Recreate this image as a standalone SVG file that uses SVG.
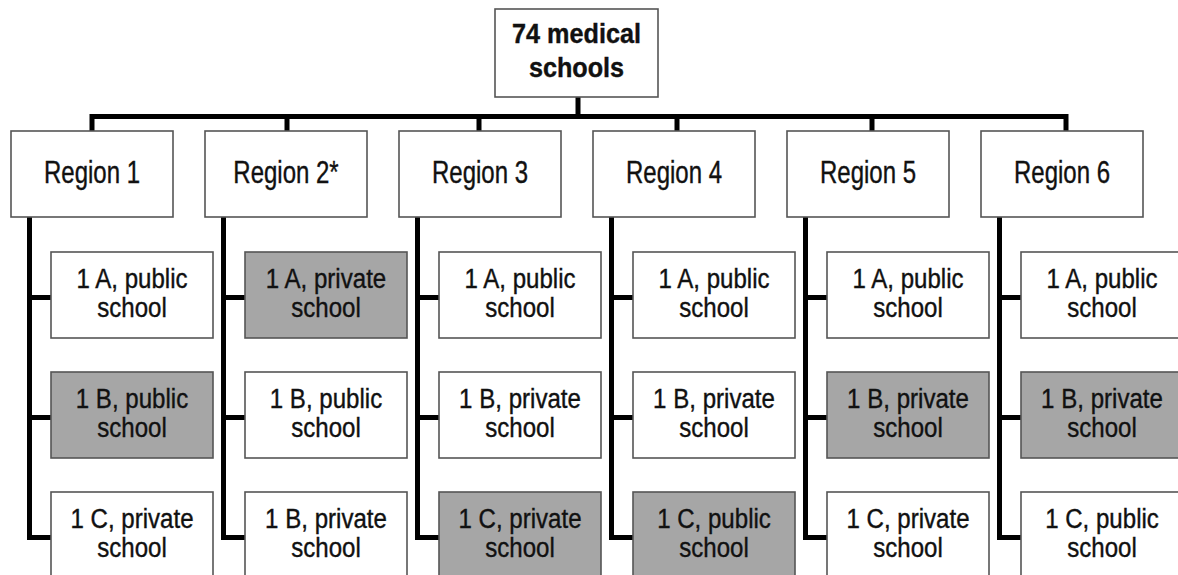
<svg xmlns="http://www.w3.org/2000/svg" width="1178" height="575" viewBox="0 0 1178 575">
<style>
.box{fill:#fff;stroke:#555;stroke-width:1.6}
.g{fill:#a6a6a6}
.ln{fill:none;stroke:#000;stroke-width:5;stroke-linejoin:miter;stroke-linecap:butt}
text{font-family:"Liberation Sans",Arial,sans-serif;fill:#111;stroke:#111;stroke-width:0.4;text-anchor:middle}
.t{font-size:28px}
.r{font-size:32px}
.b{font-size:28px;font-weight:bold}
</style>
<rect width="1178" height="575" fill="#fff"/>
<g id="connectors">
<path class="ln" d="M578 97 V116.5"/>
<path class="ln" d="M92 131 V116.5 H1066 V131"/>
<path class="ln" d="M287 116.5 V131 M479 116.5 V131 M677 116.5 V131 M872 116.5 V131"/>
<path class="ln" d="M29.5 217 V537.5 H51 M29.5 297.5 H51 M29.5 417.5 H51"/>
<path class="ln" d="M223.5 217 V537.5 H245 M223.5 297.5 H245 M223.5 417.5 H245"/>
<path class="ln" d="M417.5 217 V537.5 H439 M417.5 297.5 H439 M417.5 417.5 H439"/>
<path class="ln" d="M611.5 217 V537.5 H633 M611.5 297.5 H633 M611.5 417.5 H633"/>
<path class="ln" d="M805.5 217 V537.5 H827 M805.5 297.5 H827 M805.5 417.5 H827"/>
<path class="ln" d="M999.5 217 V537.5 H1021 M999.5 297.5 H1021 M999.5 417.5 H1021"/>
</g>
<g id="root"><rect class="box" x="495" y="9" width="163" height="88"/>
<text class="b" transform="translate(576.5,43) scale(0.9,1)">74 medical</text>
<text class="b" transform="translate(576.5,77) scale(0.9,1)">schools</text></g>
<g id="region1"><rect class="box" x="11" y="131" width="162" height="86"/><text class="r" transform="translate(92,183) scale(0.75,1)">Region 1</text></g>
<g id="region2"><rect class="box" x="205" y="131" width="162" height="86"/><text class="r" transform="translate(286,183) scale(0.75,1)">Region 2*</text></g>
<g id="region3"><rect class="box" x="399" y="131" width="162" height="86"/><text class="r" transform="translate(480,183) scale(0.75,1)">Region 3</text></g>
<g id="region4"><rect class="box" x="593" y="131" width="162" height="86"/><text class="r" transform="translate(674,183) scale(0.75,1)">Region 4</text></g>
<g id="region5"><rect class="box" x="787" y="131" width="162" height="86"/><text class="r" transform="translate(868,183) scale(0.75,1)">Region 5</text></g>
<g id="region6"><rect class="box" x="981" y="131" width="162" height="86"/><text class="r" transform="translate(1062,183) scale(0.75,1)">Region 6</text></g>

<g id="r1a"><rect class="box" x="51" y="252" width="162" height="86"/><text class="t" transform="translate(132,288) scale(0.86,1)">1 A, public</text><text class="t" transform="translate(132,317) scale(0.86,1)">school</text></g>
<g id="r1b"><rect class="box g" x="51" y="372" width="162" height="86"/><text class="t" transform="translate(132,408) scale(0.86,1)">1 B, public</text><text class="t" transform="translate(132,437) scale(0.86,1)">school</text></g>
<g id="r1c"><rect class="box" x="51" y="492" width="162" height="86"/><text class="t" transform="translate(132,528) scale(0.86,1)">1 C, private</text><text class="t" transform="translate(132,557) scale(0.86,1)">school</text></g>

<g id="r2a"><rect class="box g" x="245" y="252" width="162" height="86"/><text class="t" transform="translate(326,288) scale(0.86,1)">1 A, private</text><text class="t" transform="translate(326,317) scale(0.86,1)">school</text></g>
<g id="r2b"><rect class="box" x="245" y="372" width="162" height="86"/><text class="t" transform="translate(326,408) scale(0.86,1)">1 B, public</text><text class="t" transform="translate(326,437) scale(0.86,1)">school</text></g>
<g id="r2c"><rect class="box" x="245" y="492" width="162" height="86"/><text class="t" transform="translate(326,528) scale(0.86,1)">1 B, private</text><text class="t" transform="translate(326,557) scale(0.86,1)">school</text></g>

<g id="r3a"><rect class="box" x="439" y="252" width="162" height="86"/><text class="t" transform="translate(520,288) scale(0.86,1)">1 A, public</text><text class="t" transform="translate(520,317) scale(0.86,1)">school</text></g>
<g id="r3b"><rect class="box" x="439" y="372" width="162" height="86"/><text class="t" transform="translate(520,408) scale(0.86,1)">1 B, private</text><text class="t" transform="translate(520,437) scale(0.86,1)">school</text></g>
<g id="r3c"><rect class="box g" x="439" y="492" width="162" height="86"/><text class="t" transform="translate(520,528) scale(0.86,1)">1 C, private</text><text class="t" transform="translate(520,557) scale(0.86,1)">school</text></g>

<g id="r4a"><rect class="box" x="633" y="252" width="162" height="86"/><text class="t" transform="translate(714,288) scale(0.86,1)">1 A, public</text><text class="t" transform="translate(714,317) scale(0.86,1)">school</text></g>
<g id="r4b"><rect class="box" x="633" y="372" width="162" height="86"/><text class="t" transform="translate(714,408) scale(0.86,1)">1 B, private</text><text class="t" transform="translate(714,437) scale(0.86,1)">school</text></g>
<g id="r4c"><rect class="box g" x="633" y="492" width="162" height="86"/><text class="t" transform="translate(714,528) scale(0.86,1)">1 C, public</text><text class="t" transform="translate(714,557) scale(0.86,1)">school</text></g>

<g id="r5a"><rect class="box" x="827" y="252" width="162" height="86"/><text class="t" transform="translate(908,288) scale(0.86,1)">1 A, public</text><text class="t" transform="translate(908,317) scale(0.86,1)">school</text></g>
<g id="r5b"><rect class="box g" x="827" y="372" width="162" height="86"/><text class="t" transform="translate(908,408) scale(0.86,1)">1 B, private</text><text class="t" transform="translate(908,437) scale(0.86,1)">school</text></g>
<g id="r5c"><rect class="box" x="827" y="492" width="162" height="86"/><text class="t" transform="translate(908,528) scale(0.86,1)">1 C, private</text><text class="t" transform="translate(908,557) scale(0.86,1)">school</text></g>

<g id="r6a"><rect class="box" x="1021" y="252" width="162" height="86"/><text class="t" transform="translate(1102,288) scale(0.86,1)">1 A, public</text><text class="t" transform="translate(1102,317) scale(0.86,1)">school</text></g>
<g id="r6b"><rect class="box g" x="1021" y="372" width="162" height="86"/><text class="t" transform="translate(1102,408) scale(0.86,1)">1 B, private</text><text class="t" transform="translate(1102,437) scale(0.86,1)">school</text></g>
<g id="r6c"><rect class="box" x="1021" y="492" width="162" height="86"/><text class="t" transform="translate(1102,528) scale(0.86,1)">1 C, public</text><text class="t" transform="translate(1102,557) scale(0.86,1)">school</text></g>
</svg>
